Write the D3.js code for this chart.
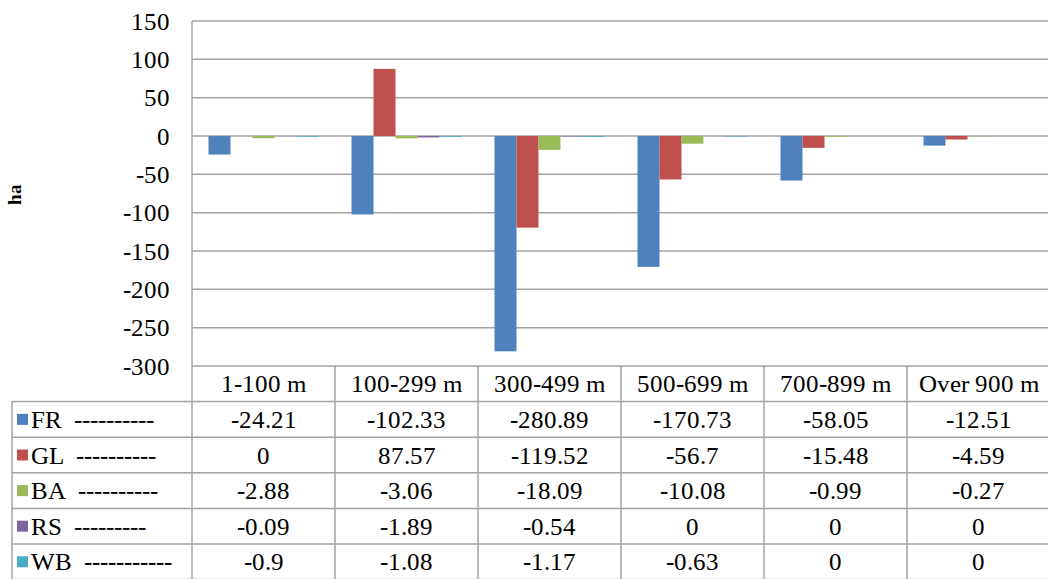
<!DOCTYPE html>
<html>
<head>
<meta charset="utf-8">
<script src="https://cdn.jsdelivr.net/npm/d3@7"></script>
<style>
  @font-face { font-family: "ChartSerif"; src: local("Liberation Serif"), local("LiberationSerif"), local("LiberationSerif-Regular"); font-weight: normal; }
  @font-face { font-family: "ChartSerif"; src: local("Liberation Serif Bold"), local("LiberationSerif-Bold"); font-weight: bold; }
  body { margin: 0; }
  #chart text { font-family: "ChartSerif", "Liberation Serif", "Times New Roman", Tinos, Times; }
</style>
</head>
<body>
<svg id="chart" width="1048" height="579"></svg>
<script>
// Elevation bands and land-cover change (ha)
const categories = ["1-100 m", "100-299 m", "300-499 m", "500-699 m", "700-899 m", "Over 900 m"];
const seriesNames = ["FR", "GL", "BA", "RS", "WB"];
const seriesLabels = ["FR\u00a0\u00a0----------", "GL\u00a0\u00a0----------", "BA\u00a0\u00a0----------", "RS\u00a0\u00a0---------", "WB\u00a0\u00a0-----------"];
const FR = [-24.21, -102.33, -280.89, -170.73, -58.05, -12.51];
const GL = [0, 87.57, -119.52, -56.7, -15.48, -4.59];
const BA = [-2.88, -3.06, -18.09, -10.08, -0.99, -0.27];
const RS = [-0.09, -1.89, -0.54, 0, 0, 0];
const WB = [-0.9, -1.08, -1.17, -0.63, 0, 0];
const yTicks = [150, 100, 50, 0, -50, -100, -150, -200, -250, -300];
const colors = ["#4F81BD", "#C0504D", "#9BBB59", "#8064A2", "#4BACC6"];

const seriesValues = [FR, GL, BA, RS, WB];

const svg = d3.select("#chart");
const plotLeft = 192, plotRight = 1050, plotTop = 21, plotBottom = 366;
const rowH = 35.6;
const headerBottom = plotBottom + rowH;
const tableLeft = 12;
const gridColor = "#a3a3a3";

// every label uses the same serif face
function label(sel, size) {
  return sel
    .style("font-size", `${size}px`)
    .attr("fill", "#000");
}

const x0 = d3.scaleBand().domain(categories).range([plotLeft, plotRight]).paddingInner(0).paddingOuter(0);
const x1 = d3.scaleBand().domain(seriesNames).range([0, x0.bandwidth()]).paddingInner(0).paddingOuter(0.75);
const y = d3.scaleLinear().domain([-300, 150]).range([plotBottom, plotTop]);

// Horizontal gridlines
svg.append("g").selectAll("line").data(yTicks).join("line")
  .attr("x1", plotLeft).attr("x2", plotRight)
  .attr("y1", d => y(d)).attr("y2", d => y(d))
  .attr("stroke", gridColor).attr("stroke-width", 1.5);

// Value axis labels
svg.selectAll("text.tick").data(yTicks).join("text")
  .attr("class", "tick")
  .attr("x", 170).attr("y", d => y(d) + 8.5)
  .attr("text-anchor", "end")
  .call(label, 25)
  .text(d => d);

// Axis title
svg.selectAll("text.ytitle").data(["ha"]).join("text")
  .attr("class", "ytitle")
  .attr("transform", `translate(21,194) rotate(-90)`)
  .attr("text-anchor", "middle")
  .call(label, 19)
  .style("font-weight", "bold")
  .text(d => d);

// Bars
const groups = svg.append("g").selectAll("g").data(seriesNames).join("g")
  .attr("fill", (d, i) => colors[i]);
groups.selectAll("rect")
  .data((s, si) => categories.map((c, ci) => ({ c, s, v: seriesValues[si][ci] })))
  .join("rect")
  .attr("x", d => x0(d.c) + x1(d.s))
  .attr("width", x1.bandwidth())
  .attr("y", d => y(Math.max(0, d.v)))
  .attr("height", d => Math.abs(y(d.v) - y(0)));

// Data table
const table = svg.append("g");
const lineAttrs = sel => sel.attr("stroke", gridColor).attr("stroke-width", 1.5);

// vertical axis line continues into table
table.append("line").attr("x1", plotLeft).attr("x2", plotLeft)
  .attr("y1", plotTop).attr("y2", 579).call(lineAttrs);

// column separators (header + body)
categories.forEach((c, i) => {
  if (i === 0) return;
  table.append("line").attr("x1", x0(c)).attr("x2", x0(c))
    .attr("y1", plotBottom).attr("y2", 579).call(lineAttrs);
});
// left border of row labels
table.append("line").attr("x1", tableLeft).attr("x2", tableLeft)
  .attr("y1", headerBottom).attr("y2", 579).call(lineAttrs);

// row separators
for (let r = 0; r <= seriesNames.length; r++) {
  const yy = headerBottom + r * rowH;
  table.append("line").attr("x1", tableLeft).attr("x2", plotRight)
    .attr("y1", yy).attr("y2", yy).call(lineAttrs);
}

// header labels
svg.selectAll("text.hdr").data(categories).join("text")
  .attr("class", "hdr")
  .attr("x", d => x0(d) + x0.bandwidth() / 2)
  .attr("y", plotBottom + rowH / 2 + 8.5)
  .attr("text-anchor", "middle")
  .call(label, 25)
  .text(d => d);

// row labels with legend keys
const rows = seriesNames.map((s, si) => ({ s, si, cy: headerBottom + si * rowH + rowH / 2 }));
svg.selectAll("rect.key").data(rows).join("rect")
  .attr("class", "key")
  .attr("x", 17).attr("y", d => d.cy - 5.5).attr("width", 11).attr("height", 11)
  .attr("fill", d => colors[d.si]);
svg.selectAll("text.rowlab").data(rows).join("text")
  .attr("class", "rowlab")
  .attr("x", 31).attr("y", d => d.cy + 8.5)
  .call(label, 25)
  .text(d => seriesLabels[d.si]);

const cells = rows.flatMap(r => seriesValues[r.si].map((v, ci) => ({ v, ci, cy: r.cy })));
svg.selectAll("text.cell").data(cells).join("text")
  .attr("class", "cell")
  .attr("x", d => x0(categories[d.ci]) + x0.bandwidth() / 2)
  .attr("y", d => d.cy + 8.5)
  .attr("text-anchor", "middle")
  .call(label, 25)
  .text(d => d.v);
</script>
</body>
</html>
